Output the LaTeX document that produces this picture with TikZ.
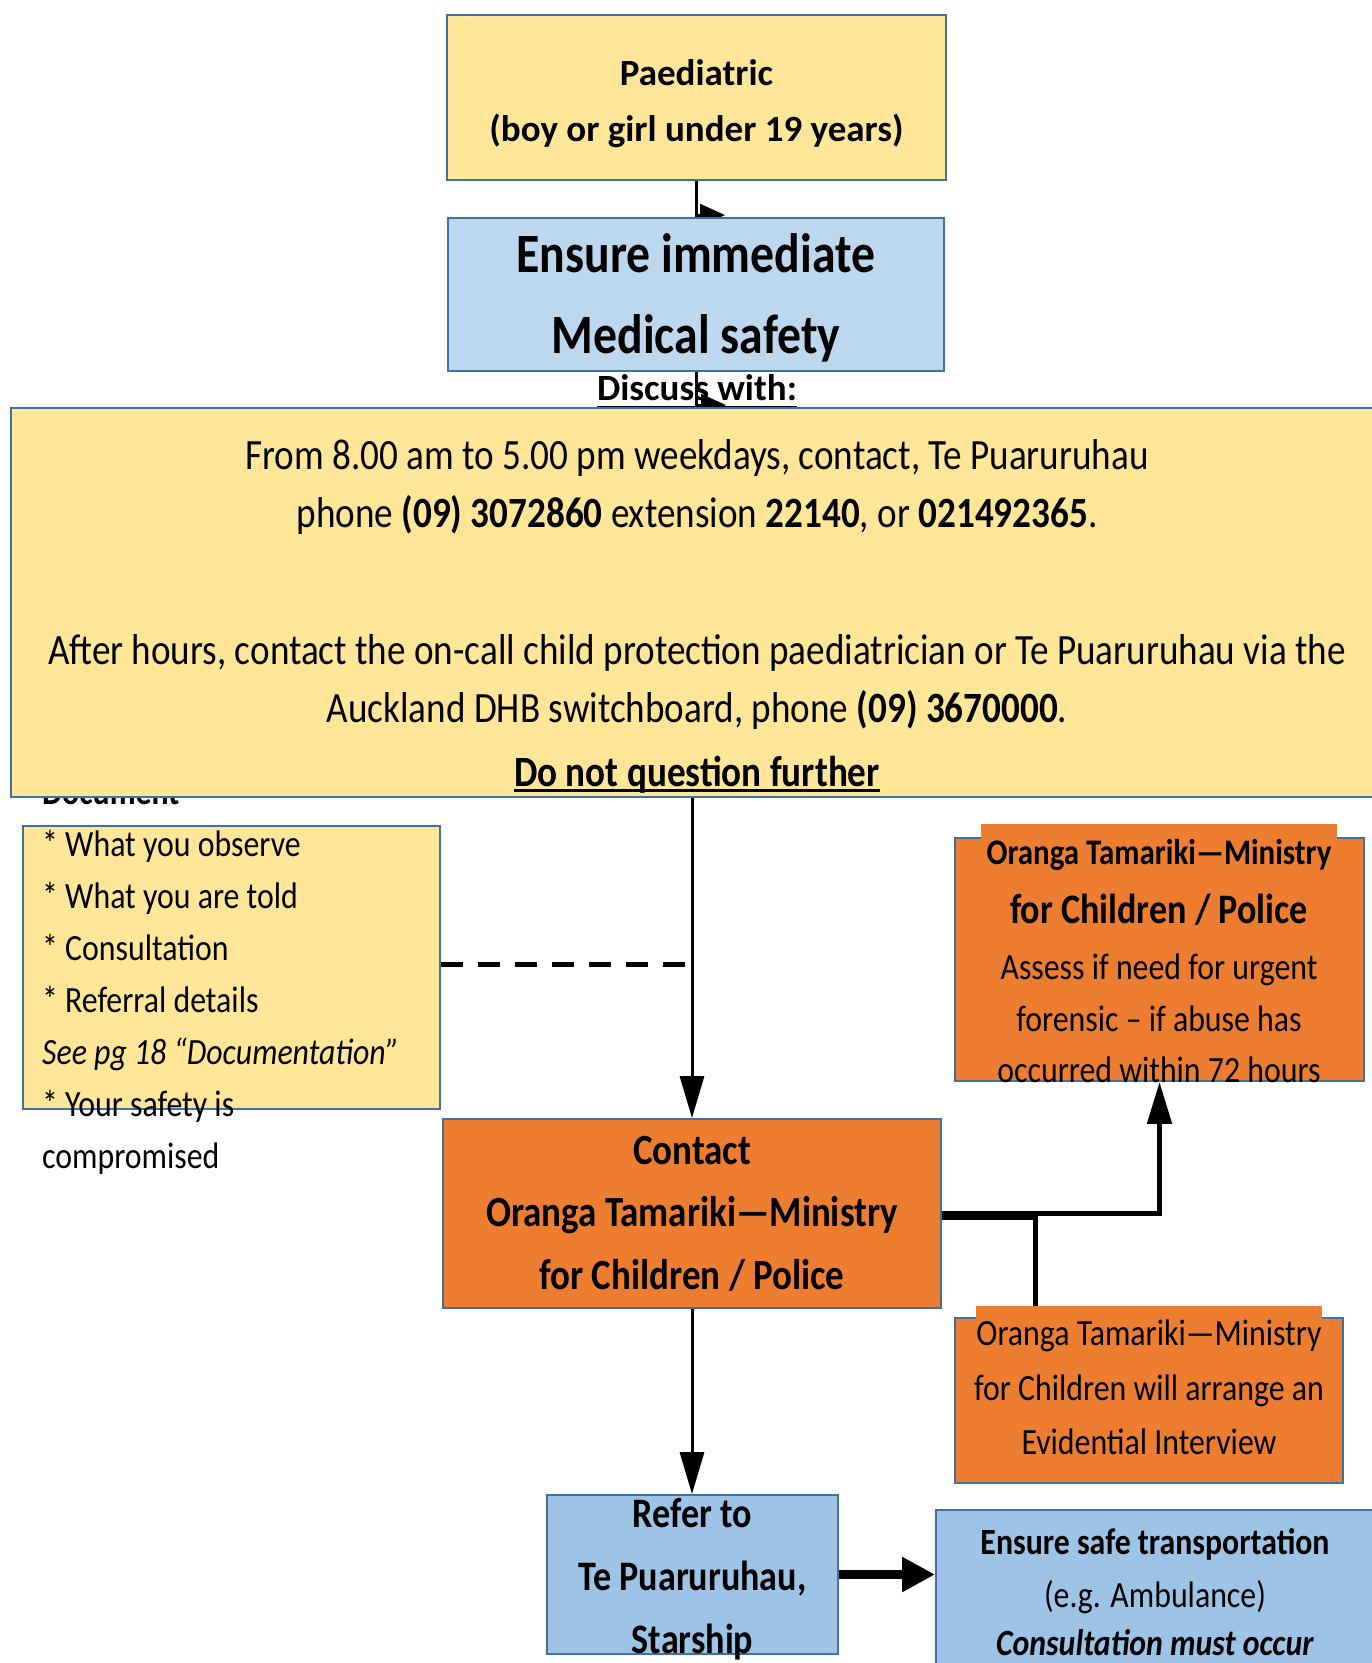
\documentclass[tikz,border=0pt]{standalone}
\usepackage{fontspec}
\setmainfont{Carlito}
\newfontfamily\fC[FakeStretch=0.86]{Carlito}
\usetikzlibrary{arrows.meta}
\pgfdeclarelayer{bg}
\pgfsetlayers{bg,main}
\definecolor{yel}{HTML}{FFE699}
\definecolor{lblue}{HTML}{BDD7EE}
\definecolor{mblue}{HTML}{9DC3E6}
\definecolor{orng}{HTML}{ED7D31}
\definecolor{bord}{HTML}{41719C}
\newcommand\myul[2]{\setbox0=\hbox{#2}\rlap{\rule[-#1]{\wd0}{2.8pt}}\box0}
\tikzset{
  box/.style={draw=bord, line width=1.8pt, inner sep=0pt, align=center},
  txt/.style={inner sep=0pt, align=center},
  conn/.style={line width=3pt, draw=black},
  tipA/.style={-{Triangle[length=42pt,width=24pt]}},
  halftip/.style={-{Triangle[length=25pt,width=22pt]}},
}
\begin{document}
\begin{tikzpicture}[x=1pt,y=-1pt]
\useasboundingbox (0,0) rectangle (1372,1663);
% top boxes
\node[box, fill=yel, minimum width=499pt, minimum height=165pt] (paed) at (696.5,97.5) {};
\node[txt, font=\fontsize{37}{56}\selectfont\bfseries] (paedtext) at (696.5,104) {Paediatric\\(boy or girl under 19 years)};
\node[box, fill=lblue, minimum width=496pt, minimum height=153pt] (ensure) at (696,294.5) {};
\node[txt, font=\fC\fontsize{55.5}{81}\selectfont\bfseries] (ensuretext) at (696,298.2) {Ensure immediate\\Medical safety};
\node[anchor=base, inner sep=0pt, font=\fontsize{37}{44}\selectfont\bfseries] (discuss) at (697,400) {\myul{9pt}{Discuss with:}};
% document box
\node[box, fill=yel, minimum width=417pt, minimum height=283pt] (doc) at (231.5,967.5) {};
\node[anchor=west, inner sep=0pt, align=left, font=\fC\fontsize{37}{52}\selectfont] (doctext) at (42,977.5) {\textbf{Document}\\{*} What you observe\\{*} What you are told\\{*} Consultation\\{*} Referral details\\\textit{See pg 18 “Documentation”}\\{*} Your safety is\\compromised};
% big contact info box
\node[box, fill=yel, minimum width=1372pt, minimum height=389pt] (bigbox) at (697,602.5) {};
\node[txt, font=\fC\fontsize{43.2}{58}\selectfont] (bigtext) at (697,616.5) {From 8.00 am to 5.00 pm weekdays, contact, Te Puaruruhau\\phone \textbf{(09) 3072860} extension \textbf{22140}, or \textbf{021492365}.\\[79pt]After hours, contact the on-call child protection paediatrician or Te Puaruruhau via the\\Auckland DHB switchboard, phone \textbf{(09) 3670000}.\\[6pt]\textbf{\myul{5.5pt}{Do not question further}}};
% urgent forensic box
\node[box, fill=orng, minimum width=409pt, minimum height=243pt] (urg) at (1159.5,959.5) {};
\fill[orng] (981,824) rectangle (1337,848);
\node[txt, font=\fC\fontsize{37}{48}\selectfont] (urgtext) at (1159,960.8) {{\fontsize{36}{48}\selectfont\bfseries Oranga Tamariki—Ministry}\\[11pt]{\fontsize{42}{48}\selectfont\bfseries for Children / Police}\\[8pt]Assess if need for urgent\\[4pt]forensic – if abuse has\\[3pt]occurred within 72 hours};
% contact box
\node[box, fill=orng, minimum width=498pt, minimum height=189pt, font=\fC\fontsize{43}{62.5}\selectfont\bfseries] (contact) at (692,1213.5) {Contact\\Oranga Tamariki—Ministry\\for Children / Police};
% evidential interview box
\node[box, fill=orng, minimum width=388pt, minimum height=165pt] (evid) at (1149,1400.5) {};
\fill[orng] (976,1306) rectangle (1322,1330);
\node[txt, font=\fC\fontsize{37}{54.5}\selectfont] (evidtext) at (1149,1387.5) {Oranga Tamariki—Ministry\\for Children will arrange an\\Evidential Interview};
% refer box
\node[box, fill=mblue, minimum width=291pt, minimum height=159pt] (refer) at (692.5,1574.5) {};
\node[txt, font=\fC\fontsize{42}{63}\selectfont\bfseries] (refertext) at (692.5,1579) {Refer to\\Te Puaruruhau,\\Starship};
% safe transport box
\node[box, fill=mblue, minimum width=438pt, minimum height=190pt] (safe) at (1155,1605) {};
\node[txt, font=\fC\fontsize{37}{48}\selectfont] (safetext) at (1155,1592.5) {\textbf{Ensure safe transportation}\\[5pt](e.g. Ambulance)\\\textbf{\textit{Consultation must occur}}};
% connectors
\begin{pgfonlayer}{bg}
\fill[white] (0,0) rectangle (1372,1663);
\draw[conn, halftip] (paed.south) |- ([xshift=29pt,yshift=2pt]ensure.north);
\draw[conn, halftip] (ensure.south) |- ([xshift=29pt,yshift=2pt]bigbox.north);
\draw[conn, tipA] (bigbox.south -| contact.north) -- (contact.north);
\draw[line width=5pt, dash pattern=on 22pt off 15pt] ([yshift=3pt]doc.east) -- ([yshift=3pt]doc.east -| contact.north);
\draw[line width=5pt, tipA] (contact.east) -| (urg.south);
\draw[line width=5pt] ([yshift=-3.5pt]contact.east) -| ([xshift=81pt]evid.north west);
\draw[conn, tipA] (contact.south) -- (contact.south |- refer.north);
\draw[line width=9pt, -{Triangle[length=33pt,width=33pt]}] (refer.east) -- (refer.east -| safe.west);
\end{pgfonlayer}
\end{tikzpicture}
\end{document}
